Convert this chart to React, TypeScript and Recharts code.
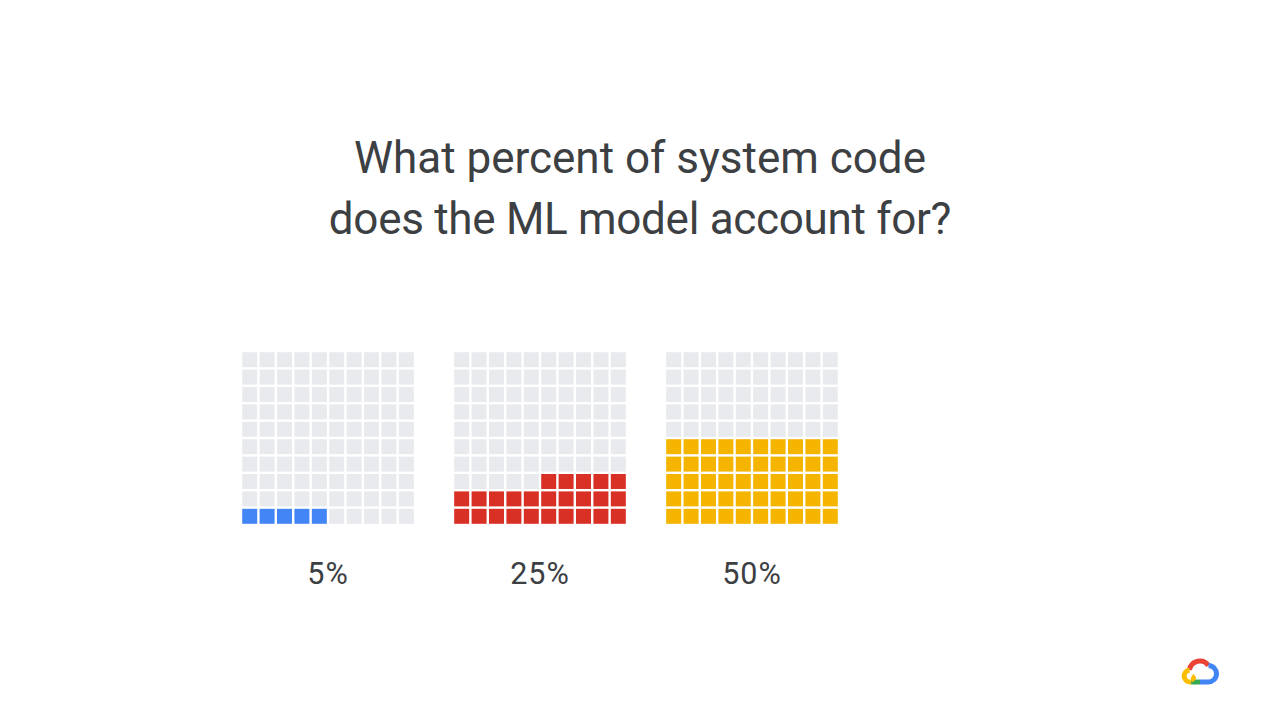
import { ScatterChart, Scatter, XAxis, YAxis } from 'recharts'

// waffle panels, one per answer
const categories = ['5%', '25%', '50%']
const values = [5, 25, 50]
const colors = ['#4285F4', '#D93025', '#F5B400']
// which side the partly filled row starts from
const partialAlign = ['left', 'right', 'left']

const EMPTY = '#E8EAED'
const SIDE = 10 // 10 x 10 cells = 100%
const STRIDE = 12.18 // panel spacing, in cells
const CELL_PX = 15

function buildCells(panel: number) {
  const v = values[panel]
  const fullRows = Math.floor(v / SIDE)
  const rest = v % SIDE
  const cells = []
  for (let i = 0; i < SIDE * SIDE; i++) {
    const row = Math.floor(i / SIDE)
    const col = i % SIDE
    let filled = row < fullRows
    if (row === fullRows && rest > 0) {
      filled = partialAlign[panel] === 'left' ? col < rest : col >= SIDE - rest
    }
    cells.push({ x: panel * STRIDE + col, y: row, fill: filled ? colors[panel] : EMPTY })
  }
  return cells
}

const panels = categories.map((_, i) => buildCells(i))
const tickPos = categories.map((_, i) => i * STRIDE + (SIDE - 1) / 2)

const Square = (props: any) => {
  const { cx, cy, payload } = props
  return (
    <rect
      x={cx - CELL_PX / 2}
      y={cy - CELL_PX / 2}
      width={CELL_PX}
      height={CELL_PX}
      fill={payload.fill}
    />
  )
}

const PanelLabel = (props: any) => {
  const { x, payload } = props
  const idx = tickPos.findIndex((t) => Math.abs(t - payload.value) < 0.01)
  return (
    <text
      x={x}
      y={232.5}
      textAnchor="middle"
      fontFamily="Roboto, sans-serif"
      fontSize={30.5}
      letterSpacing={1}
      fill="#3C4043"
    >
      {categories[idx]}
    </text>
  )
}

function CloudLogo() {
  return (
    <svg width={38} height={32} viewBox="0 0 38 32" style={{ position: 'absolute', left: 1181, top: 655 }}>
      <g fill="none" strokeWidth={5} strokeLinecap="butt">
        <path d="M 8.5 15 A 10.5 10.5 0 0 1 27.5 10.5" stroke="#EA4335" />
        <path d="M 27.5 10.5 A 8 8 0 0 1 27 27 L 19 27" stroke="#4285F4" />
        <path d="M 19 27 L 10 27" stroke="#34A853" />
        <path d="M 10 27 A 6 6 0 0 1 8.5 15" stroke="#FBBC04" />
        <path d="M 14 21 A 3.5 3.5 0 0 0 13 26" stroke="#FBBC04" />
      </g>
    </svg>
  )
}

export default function App() {
  return (
    <div style={{ position: 'relative', width: 1280, height: 720, background: '#fff', overflow: 'hidden' }}>
      <style>{'body{margin:0}'}</style>
      <div
        style={{
          position: 'absolute',
          left: 0,
          top: 128,
          width: 1280,
          textAlign: 'center',
          fontFamily: 'Roboto, sans-serif',
          fontSize: 44,
          lineHeight: '61px',
          color: '#3C4043',
        }}
      >
        What percent of system code
        <br />
        <span style={{ letterSpacing: -0.3 }}>does the ML model account for?</span>
      </div>

      <div style={{ position: 'absolute', left: 241, top: 351 }}>
        <ScatterChart width={598} height={250} margin={{ top: 0, right: 0, bottom: 0, left: 0 }}>
          <XAxis
            type="number"
            dataKey="x"
            domain={[-0.5, 2 * STRIDE + SIDE - 0.5]}
            ticks={tickPos}
            interval={0}
            axisLine={false}
            tickLine={false}
            height={76}
            tick={<PanelLabel />}
          />
          <YAxis type="number" dataKey="y" domain={[-0.5, SIDE - 0.5]} hide />
          {panels.map((cells, i) => (
            <Scatter
              key={categories[i]}
              name={categories[i]}
              data={cells}
              shape={<Square />}
              isAnimationActive={false}
            />
          ))}
        </ScatterChart>
      </div>

      <CloudLogo />
    </div>
  )
}
